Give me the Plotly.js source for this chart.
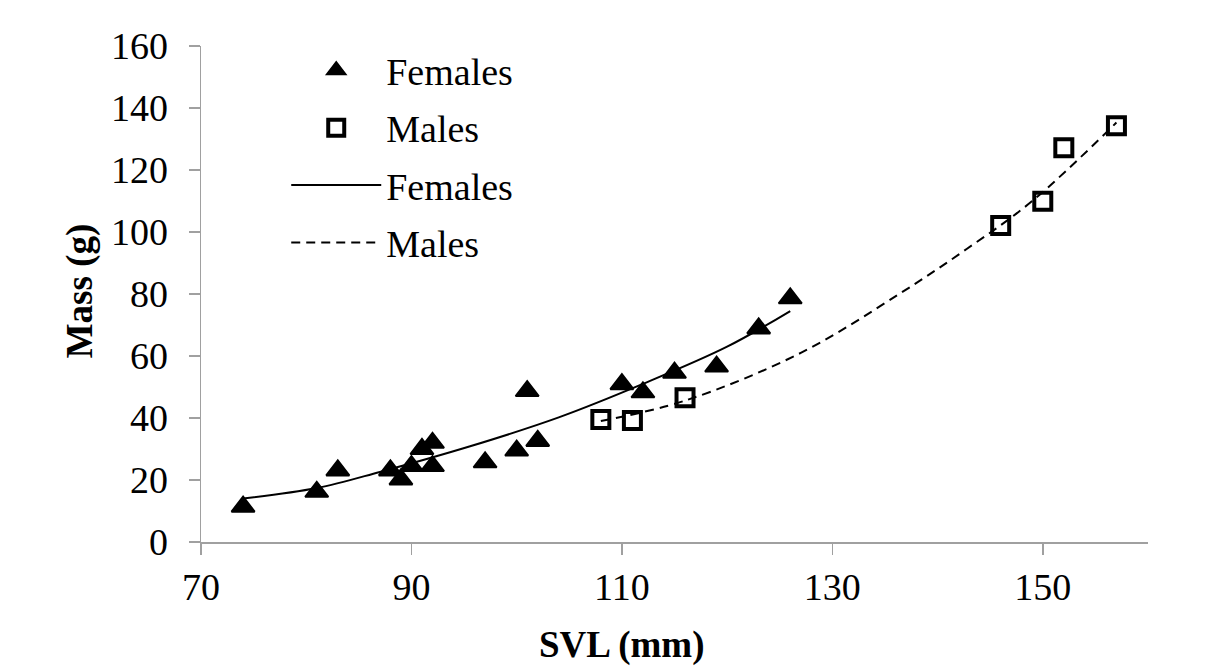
<!DOCTYPE html>
<html>
<head>
<meta charset="utf-8">
<script src="https://cdn.plot.ly/plotly-3.0.1.min.js"></script>
<style>html,body{margin:0;padding:0;background:#fff;}#chart{width:1206px;height:668px;}</style>
</head>
<body>
<div id="chart"></div>
<script>
const femaleSVL  = [74, 81, 83, 88, 89, 90, 91, 92, 92, 97, 100, 101, 102, 110, 112, 115, 119, 123, 126];
const femaleMass = [11.4, 16.2, 23.1, 23.1, 20.2, 24.5, 30.0, 32.0, 24.5, 25.7, 29.5, 48.7, 32.6, 50.9, 48.3, 54.6, 56.6, 68.9, 78.6];
const maleSVL    = [108, 111, 116, 146, 150, 152, 157];
const maleMass   = [39.5, 39.2, 46.5, 102.1, 109.9, 127.2, 134.3];

// Trend curves
const femaleTrendSVL  = [74, 81, 87, 95.5, 104, 112, 120, 126];
const femaleTrendMass = [14.0, 17.4, 22.6, 30.8, 40.2, 51.0, 63.0, 74.5];
const maleTrendSVL    = [108, 116, 127, 136.4, 142.8, 149, 157];
const maleTrendMass   = [39.0, 45.6, 61.0, 80.1, 94.6, 110.0, 135.3];

// Axis labels
const xTitle = 'SVL (mm)';
const yTitle = 'Mass (g)';
const seriesNames = ['Females', 'Males', 'Females', 'Males'];

const FONT = 'Liberation Serif';

const traces = [
  {x: femaleSVL, y: femaleMass, type: 'scatter', mode: 'markers', name: seriesNames[0], legendgroup: 'a',
   marker: {symbol: 'triangle-up', size: 20, color: '#000', line: {color: '#000', width: 2}}},
  {x: maleSVL, y: maleMass, type: 'scatter', mode: 'markers', name: seriesNames[1], legendgroup: 'b',
   marker: {symbol: 'square-open', size: 17, color: '#000', line: {color: '#000', width: 4}}},
  {x: femaleTrendSVL, y: femaleTrendMass, type: 'scatter', mode: 'lines', name: seriesNames[2], legendgroup: 'c',
   line: {color: '#000', width: 2, shape: 'spline'}},
  {x: maleTrendSVL, y: maleTrendMass, type: 'scatter', mode: 'lines', name: seriesNames[3], legendgroup: 'd',
   line: {color: '#000', width: 2, dash: '9px,6px', shape: 'spline'}}
];

function axisBase() {
  return {
    showgrid: false, zeroline: false, showline: true, linecolor: '#a0a0a0', linewidth: 1.5,
    ticks: 'outside', ticklen: 11, tickwidth: 1.5, tickcolor: '#a0a0a0',
    tickfont: {family: FONT, size: 38, color: '#000', weight: 'normal'}
  };
}

const layout = {
  width: 1206, height: 668,
  paper_bgcolor: '#fff', plot_bgcolor: '#fff',
  margin: {l: 201, r: 58, t: 46, b: 126},
  font: {family: FONT, color: '#000'},
  xaxis: Object.assign(axisBase(), {range: [70, 160], tick0: 70, dtick: 20, ticklabelstandoff: 0}),
  yaxis: Object.assign(axisBase(), {range: [0, 160], tick0: 0, dtick: 20, ticklabelstandoff: 13}),
  showlegend: true,
  legend: {x: 0.09, y: 1.014, xanchor: 'left', yanchor: 'top', bgcolor: 'rgba(0,0,0,0)',
           font: {family: FONT, size: 38, color: '#000', weight: 'normal'}, itemwidth: 90, tracegroupgap: 5, traceorder: 'grouped'},
  annotations: [
    {text: '<b>' + xTitle + '</b>', xref: 'paper', yref: 'paper', x: 0.4444, y: -0.208,
     xanchor: 'center', yanchor: 'middle', showarrow: false, font: {family: FONT, size: 37, color: '#000'}},
    {text: '<b>' + yTitle + '</b>', xref: 'paper', yref: 'paper', x: -0.128, y: 0.507, textangle: -90,
     xanchor: 'center', yanchor: 'middle', showarrow: false, font: {family: FONT, size: 37, color: '#000'}}
  ]
};

Plotly.newPlot('chart', traces, layout, {displayModeBar: false, staticPlot: true});
</script>
</body>
</html>
